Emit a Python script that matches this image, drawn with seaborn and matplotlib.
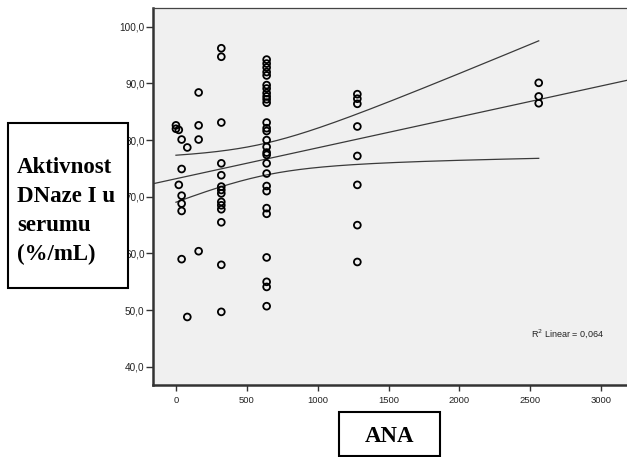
import numpy as np
import pandas as pd
import matplotlib
matplotlib.use("Agg")
import matplotlib.pyplot as plt
import seaborn as sns
from matplotlib.patches import Rectangle
from matplotlib.ticker import FuncFormatter, FixedLocator

# ANA titre levels and serum DNase I activity (%/mL) measured at each level
titers = [0, 20, 40, 80, 160, 320, 640, 1280, 2560]
act_0 = [82.6, 82.0]
act_20 = [81.8, 72.1]
act_40 = [80.1, 74.9, 70.2, 68.8, 67.5, 59.0]
act_80 = [78.7, 48.8]
act_160 = [88.4, 82.6, 80.1, 60.4]
act_320 = [96.2, 94.7, 83.1, 75.9, 73.8, 71.8, 71.2, 70.6, 69.1, 68.5,
           67.8, 65.5, 58.0, 49.7]
act_640 = [94.2, 93.5, 92.8, 92.0, 91.4, 89.7, 89.1, 88.3, 87.7, 87.2,
           86.6, 83.1, 82.1, 81.6, 80.0, 78.8, 77.8, 77.4, 75.9, 74.1,
           71.9, 71.0, 68.0, 67.0, 59.3, 55.0, 54.1, 50.7]
act_1280 = [88.1, 87.3, 86.4, 82.4, 77.2, 72.1, 65.0, 58.5]
act_2560 = [90.1, 87.7, 86.5]

y_ticks = [40, 50, 60, 70, 80, 90, 100]
x_ticks = [0, 500, 1000, 1500, 2000, 2500, 3000]
y_label_lines = ["Aktivnost", "DNaze I u", "serumu", "(%/mL)"]
x_label = "ANA"

groups = [act_0, act_20, act_40, act_80, act_160, act_320, act_640,
          act_1280, act_2560]
df = pd.DataFrame({
    "ANA": np.concatenate([[t] * len(g) for t, g in zip(titers, groups)]),
    "DNaza": np.concatenate(groups),
})

plt.rcParams["font.family"] = ["Liberation Sans", "DejaVu Sans"]

W, H = 627, 457
fig = plt.figure(figsize=(W / 100, H / 100), dpi=100)
fig.patch.set_facecolor("white")

ax = fig.add_axes([153 / W, 72 / H, (W - 153) / W, 377 / H])
ax.set_facecolor("#f0f0f0")
ax.set_xlim(-162, 3183)
ax.set_ylim(36.8, 103.3)

# scatter + least-squares line extended across the whole axis
sns.regplot(
    data=df, x="ANA", y="DNaza", ax=ax, ci=None, truncate=False,
    marker="o",
    scatter_kws=dict(facecolors="none", edgecolors="black", color="black",
                     alpha=1, s=24, linewidths=1.3, zorder=3),
    line_kws=dict(color="#3a3a3a", lw=0.9, zorder=2),
)

# 95% confidence band of the mean, drawn as two curves
x = df["ANA"].to_numpy(float)
y = df["DNaza"].to_numpy(float)
n = len(x)
slope, intercept = np.polyfit(x, y, 1)
resid = y - (intercept + slope * x)
s = np.sqrt(np.sum(resid ** 2) / (n - 2))
sxx = np.sum((x - x.mean()) ** 2)
xs = np.linspace(x.min(), x.max(), 300)
half = 1.996 * s * np.sqrt(1 / n + (xs - x.mean()) ** 2 / sxx)
fit = intercept + slope * xs
ax.plot(xs, fit + half, color="#3a3a3a", lw=0.9, zorder=2)
ax.plot(xs, fit - half, color="#3a3a3a", lw=0.9, zorder=2)

r2 = np.corrcoef(x, y)[0, 1] ** 2
ax.text(0.951, 0.135, "R$^2$ Linear = " + f"{r2:.3f}".replace(".", ","),
        transform=ax.transAxes, ha="right", va="center", fontsize=6.5,
        color="#222222")

ax.set_xlabel("")
ax.set_ylabel("")
ax.yaxis.set_major_locator(FixedLocator(y_ticks))
ax.xaxis.set_major_locator(FixedLocator(x_ticks))
ax.yaxis.set_major_formatter(FuncFormatter(lambda v, p: f"{v:.1f}".replace(".", ",")))
ax.xaxis.set_major_formatter(FuncFormatter(lambda v, p: f"{int(v)}"))
ax.tick_params(axis="y", length=5, width=1, pad=1, labelsize=7.2,
               color="#333333", labelcolor="#222222")
ax.tick_params(axis="x", length=4, width=1, pad=4, labelsize=6.8,
               color="#333333", labelcolor="#222222")

for side in ("left", "bottom"):
    ax.spines[side].set_linewidth(1.8)
    ax.spines[side].set_color("#333333")
ax.spines["top"].set_linewidth(0.9)
ax.spines["top"].set_color("#444444")
ax.spines["right"].set_visible(False)

# boxed axis titles
serif = ["Liberation Serif", "DejaVu Serif"]
fig.patches.append(Rectangle((7.5 / W, (H - 287.7) / H), 120.8 / W, 165 / H,
                             transform=fig.transFigure, facecolor="white",
                             edgecolor="black", lw=1.5))
for i, line in enumerate(y_label_lines):
    fig.text(17 / W, (H - (173 + 29 * i)) / H, line, family=serif,
             weight="bold", fontsize=16.5, ha="left", va="baseline")

fig.patches.append(Rectangle((339.3 / W, 0.8 / H), 100.7 / W, 44 / H,
                             transform=fig.transFigure, facecolor="white",
                             edgecolor="black", lw=1.5))
fig.text(390 / W, (H - 441.5) / H, x_label, family=serif, weight="bold",
         fontsize=16.5, ha="center", va="baseline")

fig.savefig("out.png", dpi=100)
